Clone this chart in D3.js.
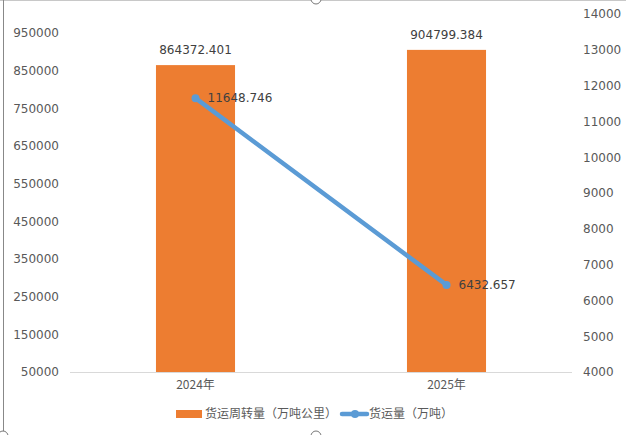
<!DOCTYPE html>
<html><head><meta charset="utf-8">
<script src="https://cdn.jsdelivr.net/npm/d3@7"></script>
<style>html,body{margin:0;padding:0;background:#fff;overflow:hidden}</style>
</head><body>
<script>
const categories = ["2024年", "2025年"];
const turnover = [864372.401, 904799.384];   // 货运周转量（万吨公里）
const volume = [11648.746, 6432.657];        // 货运量（万吨）
const leftTicks = [50000,150000,250000,350000,450000,550000,650000,750000,850000,950000];
const rightTicks = [4000,5000,6000,7000,8000,9000,10000,11000,12000,13000,14000];
const seriesNames = ["货运周转量（万吨公里）", "货运量（万吨）"];

const W = 626, H = 435;
const m = {left: 70, right: 54, top: 14, bottom: 63};
const font = "'Noto Sans CJK SC','DejaVu Sans',sans-serif";
const num = "'DejaVu Sans',sans-serif";
const svg = d3.select("body").append("svg").attr("width", W).attr("height", H)
  .style("font-family", font);

// frame remnants
svg.append("line").attr("x1",0).attr("x2",W).attr("y1",0.5).attr("y2",0.5).attr("stroke","#c8c8c8");
svg.append("line").attr("x1",3.5).attr("x2",3.5).attr("y1",0).attr("y2",H).attr("stroke","#888");
svg.append("circle").attr("cx",316).attr("cy",-1).attr("r",5).attr("fill","#fff").attr("stroke","#777");
svg.append("circle").attr("cx",3).attr("cy",H+1).attr("r",5).attr("fill","#fff").attr("stroke","#777");
svg.append("circle").attr("cx",316).attr("cy",H+1).attr("r",5).attr("fill","#fff").attr("stroke","#777");

const x = d3.scaleBand().domain(categories).range([m.left, W - m.right]).paddingInner(0).paddingOuter(0);
const yL = d3.scaleLinear().domain([50000, 1000000]).range([H - m.bottom, m.top]);
const yR = d3.scaleLinear().domain([4000, 14000]).range([H - m.bottom, m.top]);

// baseline
svg.append("line").attr("x1", m.left).attr("x2", W - m.right)
  .attr("y1", yL(50000)+0.5).attr("y2", yL(50000)+0.5).attr("stroke", "#d9d9d9");

// left axis
const axL = svg.append("g").attr("transform", `translate(${m.left-11},0)`)
  .call(d3.axisLeft(yL).tickValues(leftTicks).tickSize(0).tickPadding(0).tickFormat(d3.format("d")));
axL.select(".domain").remove();
axL.selectAll("text").attr("fill","#595959").style("font-size","12px").style("font-family",num);

// right axis
const axR = svg.append("g").attr("transform", `translate(${W - m.right + 11},0)`)
  .call(d3.axisRight(yR).tickValues(rightTicks).tickSize(0).tickPadding(0).tickFormat(d3.format("d")));
axR.select(".domain").remove();
axR.selectAll("text").attr("fill","#595959").style("font-size","12px").style("font-family",num);

// x axis labels
const axB = svg.append("g").attr("transform", `translate(0,${yL(50000)+6})`)
  .call(d3.axisBottom(x).tickSize(0).tickPadding(0));
axB.select(".domain").remove();
axB.selectAll("text").attr("fill","#595959").style("font-size","12px").attr("dy","0.9em").style("font-family",font);

// bars
const bw = x.bandwidth() * 0.315;
svg.selectAll("rect.bar").data(turnover).enter().append("rect").attr("class","bar")
  .attr("x", (d,i) => x(categories[i]) + x.bandwidth()/2 - bw/2)
  .attr("width", bw)
  .attr("y", d => yL(d))
  .attr("height", d => yL(50000) - yL(d))
  .attr("fill", "#ED7D31");

svg.selectAll("text.blab").data(turnover).enter().append("text").attr("class","blab")
  .attr("x", (d,i) => x(categories[i]) + x.bandwidth()/2)
  .attr("y", d => yL(d) - 11)
  .attr("text-anchor","middle").attr("fill","#404040")
  .style("font-size","12px").style("font-family",num)
  .text(d => d3.format(".3f")(d));

// line
const cx = (i) => x(categories[i]) + x.bandwidth()/2;
const line = d3.line().x((d,i) => cx(i)).y(d => yR(d));
svg.append("path").datum(volume).attr("d", line).attr("fill","none")
  .attr("stroke","#5B9BD5").attr("stroke-width",4.5).attr("stroke-linecap","round");
svg.selectAll("circle.pt").data(volume).enter().append("circle").attr("class","pt")
  .attr("cx",(d,i)=>cx(i)).attr("cy",d=>yR(d)).attr("r",4).attr("fill","#5B9BD5");
svg.selectAll("text.llab").data(volume).enter().append("text").attr("class","llab")
  .attr("x",(d,i)=>cx(i)+12).attr("y",d=>yR(d)).attr("dy","0.35em")
  .attr("fill","#404040").style("font-size","12px").style("font-family",num)
  .text(d => d3.format(".3f")(d));

// legend
const lg = svg.append("g").attr("transform","translate(0,414)");
lg.append("rect").attr("x",176).attr("y",-4).attr("width",26).attr("height",8).attr("fill","#ED7D31");
lg.append("text").attr("x",205).attr("y",0).attr("dy","0.35em").attr("fill","#595959")
  .style("font-size","12px").text(seriesNames[0]);
lg.append("line").attr("x1",342).attr("x2",367).attr("y1",0).attr("y2",0)
  .attr("stroke","#5B9BD5").attr("stroke-width",4.5).attr("stroke-linecap","round");
lg.append("circle").attr("cx",355).attr("cy",0).attr("r",4).attr("fill","#5B9BD5");
lg.append("text").attr("x",369).attr("y",0).attr("dy","0.35em").attr("fill","#595959")
  .style("font-size","12px").text(seriesNames[1]);
</script>
</body></html>
